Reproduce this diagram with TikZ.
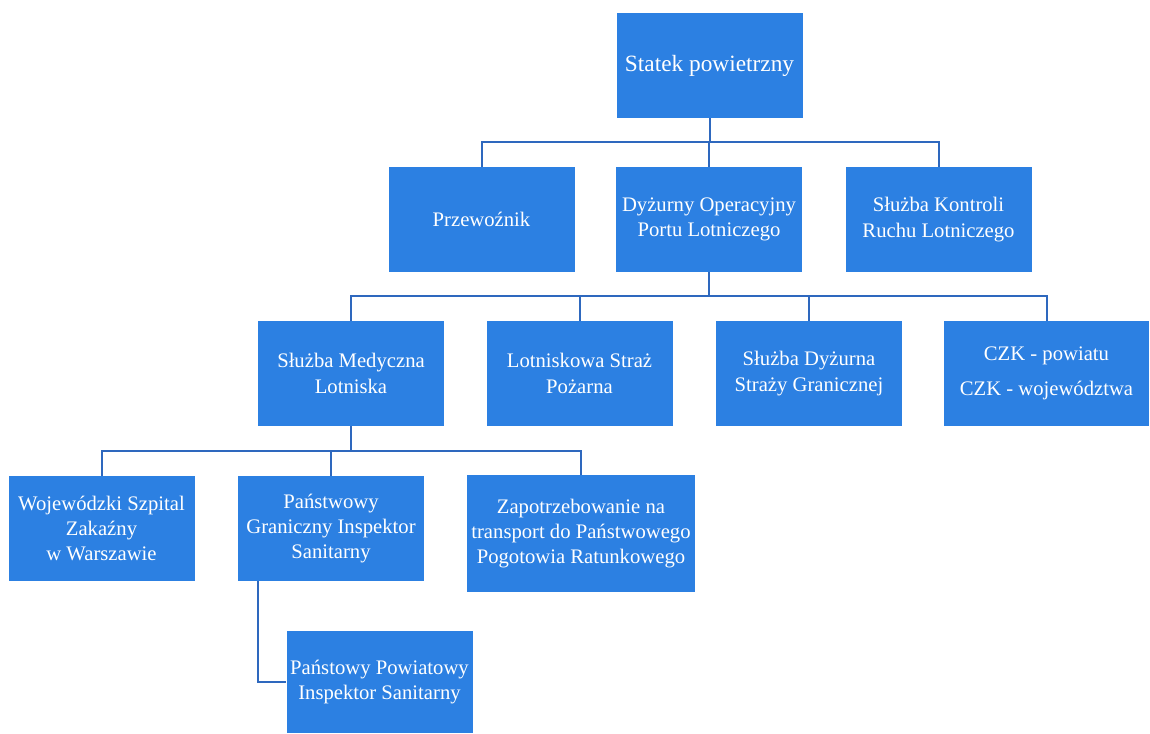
\documentclass[tikz,border=0pt]{standalone}
\usepackage{fontspec}
\setmainfont{Liberation Serif}
\usetikzlibrary{positioning}
\definecolor{boxblue}{RGB}{44,128,226}
\definecolor{linkblue}{RGB}{46,104,190}

\begin{document}
\begin{tikzpicture}[
		x=0.75pt, y=-0.75pt,
		box/.style={fill=boxblue, text=white, minimum width=139.5pt, minimum height=79pt, inner sep=1pt, align=center, font=\fontsize{15.5}{19}\selectfont},
		link/.style={draw=linkblue, line width=1.5pt},
	]
		\useasboundingbox (0,0) rectangle (1150,733);
		
		% top level
		\node[box, font=\fontsize{17.5}{21}\selectfont] (statek) at (709.5,65.5) {Statek powietrzny};
		
		% second level
		\node[box] (przew) at (481.5,219.5) {Przewoźnik};
		\node[box] (dyzurny) at (709,219.5) {Dyżurny Operacyjny\\Portu Lotniczego};
		\node[box] (kontrola) at (938.5,219.5) {Służba Kontroli\\Ruchu Lotniczego};
		
		% third level
		\node[box] (medyczna) at (351,373.5) {Służba Medyczna\\Lotniska};
		\node[box] (straz) at (579.5,373.5) {Lotniskowa Straż\\Pożarna};
		\node[box] (graniczna) at (809,373.5) {Służba Dyżurna\\Straży Granicznej};
		\node[box, minimum width=153.75pt] (czk) at (1046.5,373.5) {CZK - powiatu\\[7pt]CZK - województwa};
		
		% fourth level
		\node[box] (szpital) at (101.5,528.5) {Wojewódzki Szpital\\Zakaźny\\w Warszawie};
		\node[box] (inspektor) at (331,528.5) {Państwowy\\Graniczny Inspektor\\Sanitarny};
		\node[box, minimum width=171pt, minimum height=87.75pt] (pogotowie) at (581,533.5) {Zapotrzebowanie na\\transport do Państwowego\\Pogotowia Ratunkowego};
		\node[box, minimum height=76.5pt] (powiatowy) at (379.5,682) {Państowy Powiatowy\\Inspektor Sanitarny};
		
		% connectors
		\path (statek.south) ++(0,24) coordinate (bus1);
		\path (dyzurny.south) ++(0,24) coordinate (bus2);
		\path (medyczna.south) ++(0,25) coordinate (bus3);
		
		\foreach \n in {przew,dyzurny,kontrola}
			\draw[link] (statek.south) -- (bus1) -| (\n.north);
		\foreach \n in {medyczna,straz,graniczna,czk}
			\draw[link] (dyzurny.south) -- (bus2) -| (\n.north);
		\foreach \n in {szpital,inspektor,pogotowie}
			\draw[link] (medyczna.south) -- (bus3) -| (\n.north);
		\draw[link] ([xshift=15pt]inspektor.south west) |- (powiatowy.west);
	\end{tikzpicture}
\end{document}
